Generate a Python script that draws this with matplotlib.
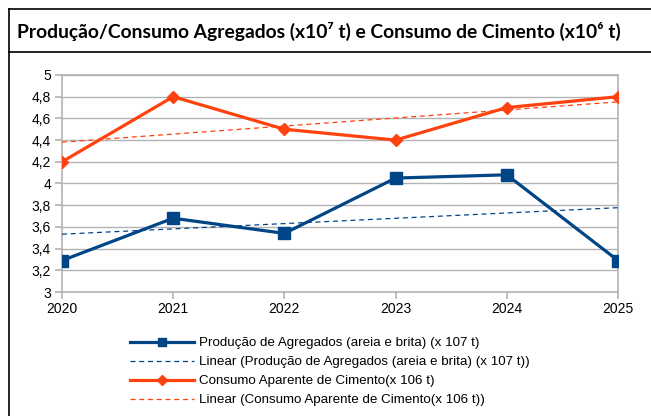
import numpy as np
import matplotlib
matplotlib.use("Agg")
import matplotlib.pyplot as plt
from matplotlib.lines import Line2D

# ================= DATA =================
years = [2020, 2021, 2022, 2023, 2024, 2025]
agregados = [3.29, 3.68, 3.54, 4.05, 4.08, 3.29]
cimento = [4.2, 4.8, 4.5, 4.4, 4.7, 4.8]
y_ticks = [3, 3.2, 3.4, 3.6, 3.8, 4, 4.2, 4.4, 4.6, 4.8, 5]
y_labels = ["3", "3,2", "3,4", "3,6", "3,8", "4", "4,2", "4,4", "4,6", "4,8", "5"]

title = "Produção/Consumo Agregados (x10⁷ t) e Consumo de Cimento (x10⁶ t)"
lab_agr = "Produção de Agregados (areia e brita) (x 107 t)"
lab_agr_lin = "Linear (Produção de Agregados (areia e brita) (x 107 t))"
lab_cim = "Consumo Aparente de Cimento(x 106 t)"
lab_cim_lin = "Linear (Consumo Aparente de Cimento(x 106 t))"

BLUE = "#004586"
ORANGE = "#ff420e"

W, H = 651, 416
fig = plt.figure(figsize=(W / 100, H / 100), dpi=100)

# ================= FRAME / TITLE =================
def fx(px):
    return px / W

def fy(py):
    return 1 - py / H

fig.add_artist(Line2D([fx(9), fx(9)], [fy(9), 0], color="black", lw=1.2))
fig.add_artist(Line2D([fx(9), 1], [fy(9), fy(9)], color="black", lw=1.2))
fig.add_artist(Line2D([fx(9), 1], [fy(52), fy(52)], color="black", lw=1.2))
t = fig.text(fx(17), fy(31), title, fontsize=13, fontweight="bold",
             family=["Lato", "DejaVu Sans"], va="center", ha="left")
# fit the title into the header box width
renderer = fig.canvas.get_renderer()
tw = t.get_window_extent(renderer).width
t.set_fontsize(13 * 604 / tw)

# ================= AXES =================
ax = fig.add_axes([fx(62), fy(292), fx(618) - fx(62), fy(75) - fy(292)])

x = np.array(years)
fit_agr = np.polyval(np.polyfit(x, agregados, 1), x)
fit_cim = np.polyval(np.polyfit(x, cimento, 1), x)

ax.plot(years, agregados, color=BLUE, lw=2.3, marker="s", markersize=8,
        label=lab_agr, zorder=4)
ax.plot(years, fit_agr, color=BLUE, lw=0.9, ls=(0, (4, 3)), label=lab_agr_lin,
        zorder=3)
ax.plot(years, cimento, color=ORANGE, lw=2.3, marker="D", markersize=6.5,
        label=lab_cim, zorder=4)
ax.plot(years, fit_cim, color=ORANGE, lw=0.9, ls=(0, (4, 3)), label=lab_cim_lin,
        zorder=3)

ax.set_xlim(2020, 2025)
ax.set_ylim(3, 5)
ax.set_xticks(years)
ax.set_xticklabels([str(y) for y in years], family="Liberation Sans", fontsize=10)
ax.set_yticks(y_ticks)
ax.set_yticklabels(y_labels, family="Liberation Sans", fontsize=10)
ax.grid(axis="y", color="#b3b3b3", lw=1)
ax.set_axisbelow(True)
for s in ax.spines.values():
    s.set_color("#b3b3b3")
    s.set_linewidth(1.2)
ax.tick_params(axis="both", color="#b3b3b3", length=5, width=1.2, pad=3)
ax.tick_params(axis="x", pad=2)

# ================= LEGEND =================
fig.legend(loc="upper left", bbox_to_anchor=(fx(130), fy(337)),
           prop={"family": "Liberation Sans", "size": 9.6},
           frameon=False, handlelength=4.8, handletextpad=0.4,
           labelspacing=0.5, borderaxespad=0, borderpad=0, markerscale=0.8)

fig.savefig("out.png", dpi=100)
